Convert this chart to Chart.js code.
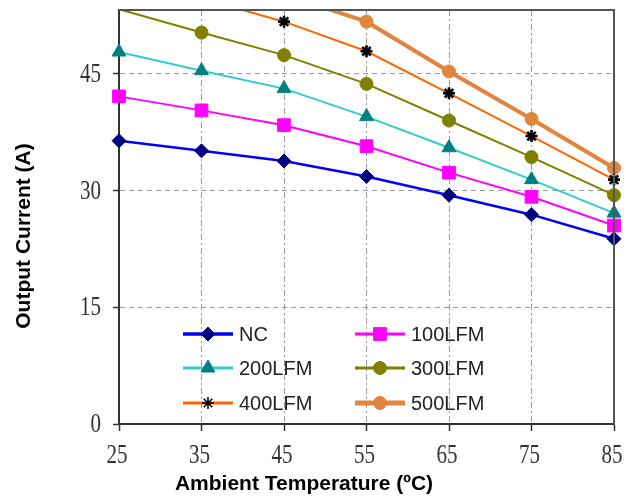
<!DOCTYPE html>
<html>
<head>
<meta charset="utf-8">
<script src="https://cdn.jsdelivr.net/npm/chart.js@4.4.0/dist/chart.umd.min.js"></script>
<style>
  body { margin: 0; background: #fff; }
  canvas { display: block; }
</style>
</head>
<body>
<canvas id="grafica" width="626" height="497"></canvas>
<script>
// data
var temps = ['25', '35', '45', '55', '65', '75', '85'];
var seriesNames = ['NC', '100LFM', '200LFM', '300LFM', '400LFM', '500LFM'];
var nc     = [36.4, 35.1, 33.8, 31.8, 29.4, 26.9, 23.8];
var lfm100 = [42.1, 40.3, 38.4, 35.7, 32.3, 29.2, 25.5];
var lfm200 = [47.8, 45.4, 43.1, 39.5, 35.5, 31.4, 27.1];
var lfm300 = [53.3, 50.3, 47.4, 43.7, 39.0, 34.3, 29.4];
var lfm400 = [57.5, 54.7, 51.7, 47.9, 42.5, 37.0, 31.4];
var lfm500 = [60.0, 58.0, 55.2, 51.7, 45.3, 39.2, 32.9];
var yTicks = [0, 15, 30, 45];
var yMax = 53.2;

var styles = [
    { line: '#0000ff', mark: '#000080', shape: 'rectRot', r: 7, w: 2.5 },
    { line: '#ff00ff', mark: '#ff00ff', shape: 'rect', r: 9, w: 2 },
    { line: '#33cccc', mark: '#008080', shape: 'triangle', r: 8, w: 2 },
    { line: '#808000', mark: '#808000', shape: 'circle', r: 6.5, w: 2 },
    { line: '#ff6600', mark: '#000000', shape: 'star', r: 6, w: 2 },
    { line: '#e0843e', mark: '#e0843e', shape: 'circle', r: 6.5, w: 4 }
];
var values = [nc, lfm100, lfm200, lfm300, lfm400, lfm500];

var datasets = values.map(function (v, i) {
    var s = styles[i];
    return {
        label: seriesNames[i],
        data: v,
        borderColor: s.line,
        borderWidth: s.w,
        backgroundColor: s.mark,
        pointBackgroundColor: s.mark,
        pointBorderColor: s.mark,
        pointBorderWidth: s.shape == 'star' ? 2.6 : 1,
        pointStyle: s.shape,
        // markers above the plot top are not shown
        pointRadius: function (c) { return c.raw > yMax ? 0 : s.r; },
        tension: 0
    };
});

// ticks labels, frame, legend and axis titles
var extras = {
    id: 'extras',
    afterDraw: function (chart) {
        var c = chart.ctx;
        var a = chart.chartArea;
        var xs = chart.scales.x, ys = chart.scales.y;

        c.save();
        c.strokeStyle = '#555';
        c.lineWidth = 2;
        c.beginPath();
        c.moveTo(a.left, a.top);
        c.lineTo(a.right, a.top);
        c.lineTo(a.right, a.bottom);
        c.stroke();

        // tick labels, narrow serif
        c.fillStyle = '#333';
        c.font = '27px "Liberation Serif"';
        c.textBaseline = 'middle';
        ys.ticks.forEach(function (t) {
            var py = ys.getPixelForValue(t.value);
            c.save();
            c.translate(101, py + 1);
            c.scale(0.78, 1);
            c.textAlign = 'right';
            c.fillText(String(t.value), 0, 0);
            c.restore();
        });
        temps.forEach(function (t, i) {
            var px = xs.getPixelForValue(i);
            c.save();
            c.translate(px - 2, 456);
            c.scale(0.78, 1);
            c.textAlign = 'center';
            c.fillText(t, 0, 0);
            c.restore();
        });

        // axis titles
        c.fillStyle = '#000';
        c.font = 'bold 21px "Liberation Sans"';
        c.textAlign = 'center';
        c.textBaseline = 'alphabetic';
        c.fillText('Ambient Temperature (\u00baC)', 304, 490);
        c.save();
        c.translate(30, 236);
        c.rotate(-Math.PI / 2);
        c.fillText('Output Current (A)', 0, 0);
        c.restore();

        // legend inside the plot
        var cols = [183, 355];
        var rows = [334, 368, 403];
        c.font = '20px "Liberation Sans"';
        c.textAlign = 'left';
        c.textBaseline = 'middle';
        datasets.forEach(function (d, i) {
            var s = styles[i];
            var x0 = cols[i % 2], y0 = rows[Math.floor(i / 2)];
            c.strokeStyle = s.line;
            c.lineWidth = s.w + 1;
            c.beginPath();
            c.moveTo(x0, y0);
            c.lineTo(x0 + 50, y0);
            c.stroke();
            c.fillStyle = s.mark;
            c.strokeStyle = s.mark;
            c.lineWidth = s.shape == 'star' ? 1.5 : 1;
            Chart.helpers.drawPoint(c, { pointStyle: s.shape, radius: s.r, borderWidth: 1, rotation: 0 }, x0 + 25, y0);
            c.fillStyle = '#222';
            c.fillText(d.label, x0 + 56, y0 + 1);
        });
        c.restore();
    }
};

var ctx = document.getElementById('grafica').getContext('2d');
var chart = new Chart(ctx, {
    type: 'line',
    data: {
        labels: temps,
        datasets: datasets
    },
    options: {
        responsive: false,
        animation: false,
        layout: { padding: { top: 6, right: 12, left: 0, bottom: 0 } },
        plugins: {
            legend: { display: false },
            tooltip: { enabled: false }
        },
        scales: {
            x: {
                grid: { color: '#999', lineWidth: 1, tickLength: 7, tickColor: '#333', tickWidth: 1.5, tickBorderDash: [] },
                border: { color: '#333', width: 2, dash: [6, 3, 2, 3] },
                ticks: { display: false },
                afterFit: function (s) { s.height = 73; }
            },
            y: {
                min: 0,
                max: yMax,
                ticks: { display: false, stepSize: 15 },
                afterBuildTicks: function (s) {
                    s.ticks = yTicks.map(function (v) { return { value: v }; });
                },
                grid: { color: '#999', lineWidth: 1, tickLength: 6, tickColor: '#333', tickWidth: 1.5, tickBorderDash: [] },
                border: { color: '#333', width: 2, dash: [5, 4] },
                afterFit: function (s) { s.width = 119; }
            }
        }
    },
    plugins: [extras]
});
</script>
</body>
</html>
